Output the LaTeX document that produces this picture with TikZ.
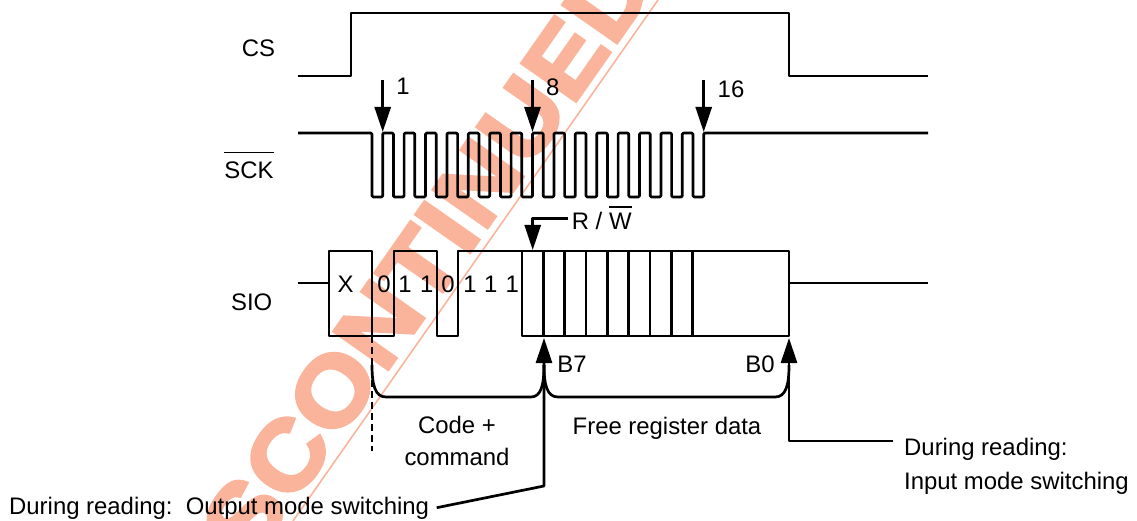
\documentclass[tikz,border=0pt]{standalone}
\usepackage{fontspec}
\setmainfont{Liberation Sans}
\newfontfamily\wmfont[FakeStretch=1.10,LetterSpace=1,FakeBold=3.5]{Liberation Sans}
\usetikzlibrary{arrows.meta,calc}
\definecolor{wm}{HTML}{FBB49C}
\newcommand\ovlbar[2]{\leavevmode\setbox0\hbox{#2}\rlap{\raisebox{#1}{\rule{\wd0}{1.4pt}}}\box0}
\tikzset{
  sig/.style={line width=2.7pt,line join=round,black},
  arr/.style={line width=2.7pt,line join=round,-{Triangle[length=25pt,width=16pt]}},
  lbl/.style={font=\fontsize{23.9pt}{26pt}\selectfont,inner sep=0pt,anchor=base,text=black},
  lbll/.style={lbl,anchor=base west},
}
\begin{document}
\begin{tikzpicture}[x=1pt,y=-1pt]
\useasboundingbox (0,0) rectangle (1137,521);
% watermark
\begin{scope}
\clip (0,0) rectangle (1137,521);
\coordinate (wma) at (658,0); \coordinate (wmb) at (293,521);
\draw[wm,line width=1.6pt] (wma) -- (wmb);
\node[wm,inner sep=0pt,anchor=base west,rotate=55,font=\wmfont\bfseries\fontsize{96pt}{96pt}\selectfont] (wmark) at (189.5,653) {DISCONTINUED};
\end{scope}
% CS
\draw[sig] (298,76) -- (351,76) -- (351,13) -- (789,13) -- (789,76) -- (928,76);
% SCK
\draw[sig,rounded corners=1.2pt] (298,133)
  foreach \k in {0,...,15} { -- ({372+21.4*\k},133) -- ({372+21.4*\k},197) -- ({382.7+21.4*\k},197) -- ({382.7+21.4*\k},133) }
  -- (928,133);
% SIO
\draw[sig] (298,283) -- (329,283);
\draw[sig] (372,336) -- (329,336) -- (329,251) -- (372,251) -- (372,336) -- (394,336) -- (394,251) -- (437,251) -- (437,336) -- (458,336) -- (458,251) -- (789,251) -- (789,336) -- (522,336) -- (522,251);
\foreach \x in {543.3,564.5,586,607.3,628.7,650,671.3,692.7} \draw[sig] (\x,251) -- (\x,336);
\draw[sig] (789,283) -- (928,283);
% labels
\node[lbl] (cs) at (258.5,56.7) {CS};
\node[lbl] (sck) at (249,179) {\ovlbar{25.5pt}{SCK}};
\node[lbl] (sio) at (251.7,310) {SIO};
\node[lbl] (n1) at (403,95) {1};
\node[lbl] (n8) at (552.7,95.5) {8};
\node[lbl] (n16) at (731,98) {16};
\node[lbl] (x) at (345.7,292.7) {X};
\foreach \x/\t [count=\i] in {384/0,405/1,426.7/1,448/0,470/1,490.7/1,512.3/1} \node[lbl] (b\i) at (\x,292.7) {\t};
\node[lbl] (rw) at (601.7,229.5) {R / \ovlbar{22pt}{W}};
\node[lbl] (b7) at (572,372.3) {B7};
\node[lbl] (b0) at (760,372.3) {B0};
\node[lbl] (code) at (457,433) {Code +};
\node[lbl] (cmd) at (457,465.7) {command};
\node[lbl] (free) at (667,434.3) {Free register data};
\node[lbll] (dr1) at (904,455) {During reading:};
\node[lbll] (dr2) at (904,489) {Input mode switching};
\node[lbll] (dr3) at (9,514) {During reading:\ \ Output mode switching};
% connectors
\coordinate (t1) at (382.7,132); \coordinate (s1) at (382.7,80);
\coordinate (t8) at (532.5,132); \coordinate (s8) at (532.5,80);
\coordinate (t16) at (703.7,132); \coordinate (s16) at (703.7,80);
\draw[arr] (s1) -- (t1);
\draw[arr] (s8) -- (t8);
\draw[arr] (s16) -- (t16);
\coordinate (rws) at (568.3,218.3); \coordinate (rwe) at (532.7,218.3); \coordinate (rwt) at (532.7,250);
\draw[arr] (rws) -- (rwe) -- (rwt);
\coordinate (b7t) at (544,338); \coordinate (b7k) at (544,486); \coordinate (b7s) at (436.7,507.7);
\draw[arr] (b7s) -- (b7k) -- (b7t);
\coordinate (b0t) at (789,338); \coordinate (b0k) at (789,441); \coordinate (b0s) at (893,441);
\draw[arr] (b0s) -- (b0k) -- (b0t);
\coordinate (d1) at (372,336); \coordinate (d2) at (372,451); \coordinate (d3) at (372,365);
\draw[sig,dash pattern=on 7pt off 4pt] (d1) -- (d2);
\draw[sig] (d3) .. controls (372,385) and (375,397) .. (386,397) -- (531,397) .. controls (541,397) and (544,385) .. (544,365);
\draw[sig] (544,365) .. controls (544,385) and (547,397) .. (558,397) -- (775,397) .. controls (786,397) and (789,385) .. (789,365);
\end{tikzpicture}
\end{document}
